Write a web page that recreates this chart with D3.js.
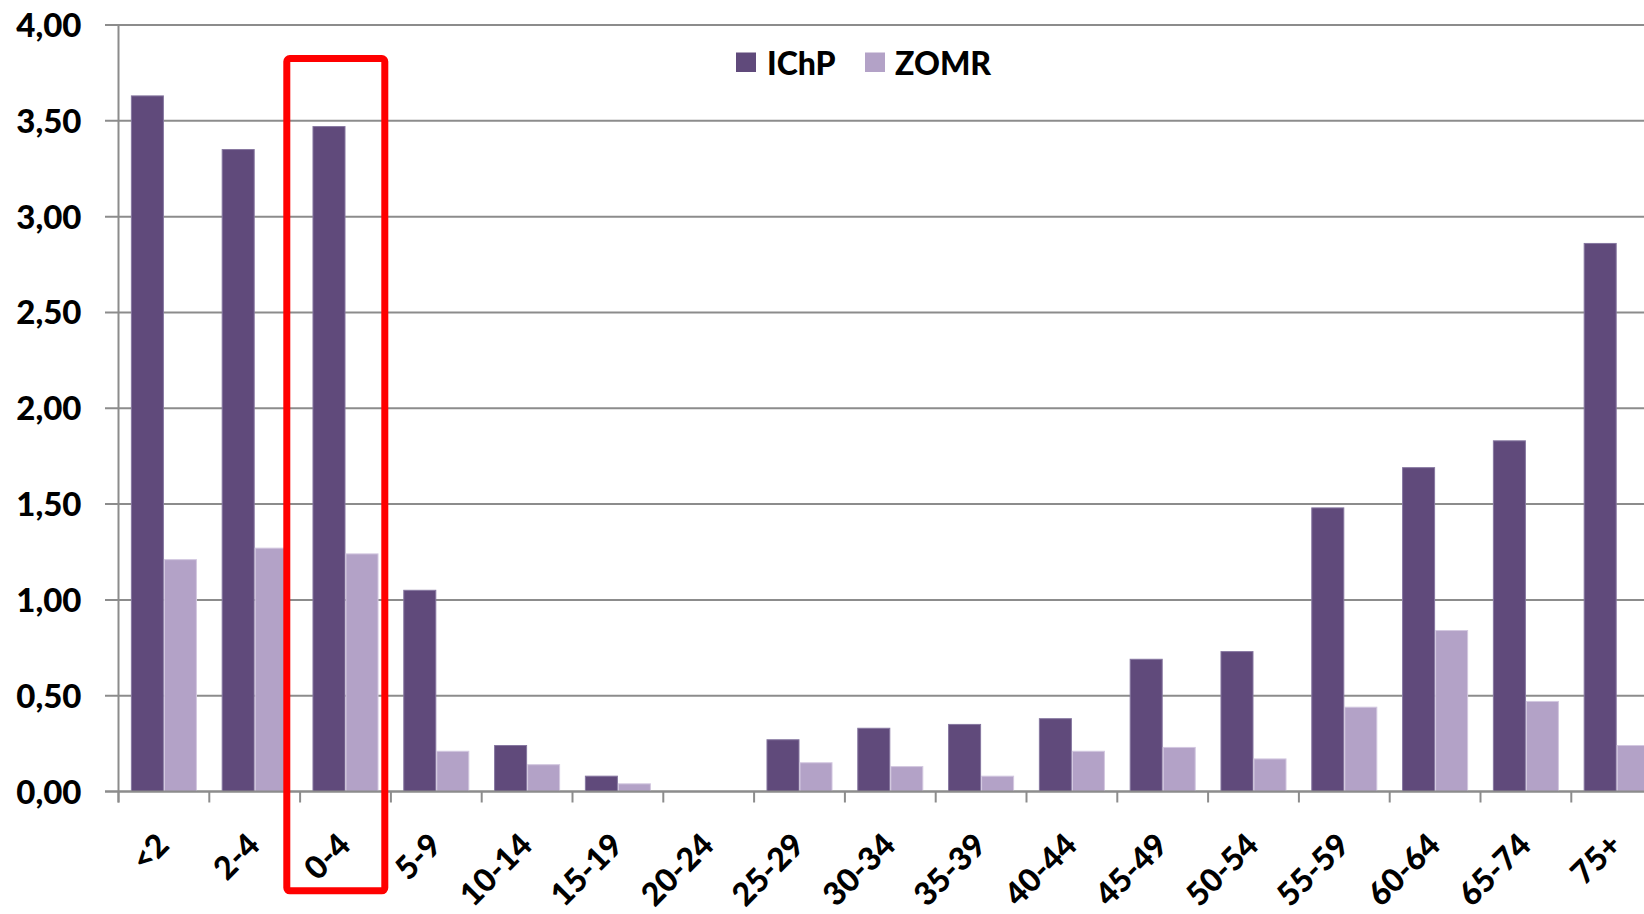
<!DOCTYPE html>
<html>
<head>
<meta charset="utf-8">
<script src="https://cdn.jsdelivr.net/npm/d3@7"></script>
<style>
  html, body { margin: 0; padding: 0; background: #fff; }
  svg { display: block; }
  text { font-family: Lato, "Open Sans", sans-serif; font-weight: 900; fill: #000; }
</style>
</head>
<body>
<svg id="chart" width="1644" height="914"></svg>
<script>
const categories = ["<2", "2-4", "0-4", "5-9", "10-14", "15-19", "20-24", "25-29", "30-34", "35-39", "40-44", "45-49", "50-54", "55-59", "60-64", "65-74", "75+"];
const seriesNames = ["IChP", "ZOMR"];
const ichp = [3.63, 3.35, 3.47, 1.05, 0.24, 0.08, 0, 0.27, 0.33, 0.35, 0.38, 0.69, 0.73, 1.48, 1.69, 1.83, 2.86];
const zomr = [1.21, 1.27, 1.24, 0.21, 0.14, 0.04, 0, 0.15, 0.13, 0.08, 0.21, 0.23, 0.17, 0.44, 0.84, 0.47, 0.24];
const yTicks = [0, 0.5, 1, 1.5, 2, 2.5, 3, 3.5, 4];
const highlighted = "0-4";

const colors = {IChP: "#604a7b", ZOMR: "#b3a2c7"};
const strokes = {IChP: "#8677a0", ZOMR: "#d3c8e0"};
const gridColor = "#8c8c8c";

const svg = d3.select("#chart");
const left = 118.5, bandW = 90.8;
const x = d3.scaleBand().domain(categories).range([left, left + bandW * categories.length]).padding(0);
const y = d3.scaleLinear().domain([0, 4]).range([791.5, 25]);
const xs = d3.scaleBand().domain(seriesNames).range([0, x.bandwidth()]).paddingInner(0).paddingOuter(0.375);

const fmt = v => d3.format(".2f")(v).replace(".", ",");

// gridlines + y labels
const gy = svg.append("g").attr("transform", `translate(${left},0)`);
gy.selectAll("line.grid").data(yTicks).join("line")
  .attr("class", "grid")
  .attr("x1", -13.5).attr("x2", 1644 - left)
  .attr("y1", d => y(d)).attr("y2", d => y(d))
  .attr("stroke", gridColor).attr("stroke-width", 2);
gy.selectAll("text.ylab").data(yTicks).join("text")
  .attr("class", "ylab")
  .attr("x", -37).attr("y", d => y(d) + 12)
  .attr("text-anchor", "end")
  .attr("font-size", 33)
  .text(fmt);

// y axis line
svg.append("line").attr("x1", left).attr("x2", left).attr("y1", y(4)).attr("y2", y(0) + 11)
  .attr("stroke", gridColor).attr("stroke-width", 2);

// x ticks at band boundaries
const bounds = categories.map(c => x(c)).concat([x(categories[categories.length - 1]) + x.bandwidth()]);
svg.append("g").selectAll("line").data(bounds).join("line")
  .attr("x1", d => d).attr("x2", d => d)
  .attr("y1", y(0)).attr("y2", y(0) + 11)
  .attr("stroke", gridColor).attr("stroke-width", 2);

// bars
const rows = categories.map((c, i) => ({cat: c, IChP: ichp[i], ZOMR: zomr[i]}));
const groups = svg.append("g").selectAll("g").data(rows).join("g")
  .attr("transform", d => `translate(${x(d.cat)},0)`);
groups.selectAll("rect").data(d => seriesNames.map(k => ({key: k, value: d[k]})).filter(e => e.value > 0)).join("rect")
  .attr("x", d => xs(d.key) + 0.5)
  .attr("width", xs.bandwidth() - 1)
  .attr("y", d => y(d.value))
  .attr("height", d => y(0) - y(d.value))
  .attr("fill", d => colors[d.key])
  .attr("stroke", d => strokes[d.key])
  .attr("stroke-width", 1);

// baseline over bars
svg.append("line").attr("x1", left - 13.5).attr("x2", 1644).attr("y1", y(0)).attr("y2", y(0))
  .attr("stroke", gridColor).attr("stroke-width", 2);

// x labels
svg.append("g").selectAll("text").data(categories).join("text")
  .attr("transform", d => `translate(${x(d) + x.bandwidth() / 2 + 7},847) rotate(-45)`)
  .attr("text-anchor", "end")
  .attr("font-size", 32)
  .text(d => d);

// highlight box
const hx = x(highlighted);
svg.append("rect")
  .attr("x", hx - 13.3).attr("y", 58.5)
  .attr("width", 98).attr("height", 890.8 - 58.5)
  .attr("rx", 3)
  .attr("fill", "none").attr("stroke", "#ff0000").attr("stroke-width", 7);

// legend
const legend = svg.append("g");
const legItems = [{key: "IChP", sx: 736, tx: 767}, {key: "ZOMR", sx: 865, tx: 895}];
legend.selectAll("rect").data(legItems).join("rect")
  .attr("x", d => d.sx).attr("y", 52.5).attr("width", 20).attr("height", 19.5)
  .attr("fill", d => colors[d.key]);
legend.selectAll("text").data(legItems).join("text")
  .attr("x", d => d.tx).attr("y", 74.5)
  .attr("font-size", 32)
  .text(d => d.key);
</script>
</body>
</html>
